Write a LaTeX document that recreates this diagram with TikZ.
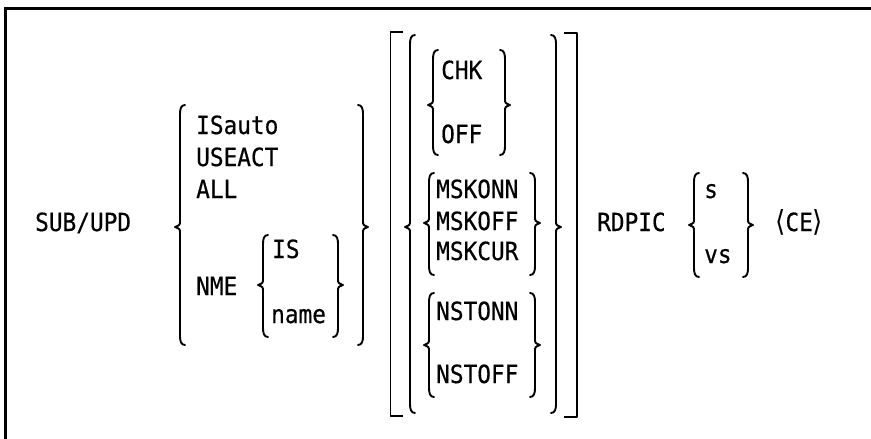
\documentclass[tikz,border=0pt]{standalone}
\usepackage{fontspec}
\newfontfamily\dgfont[FakeStretch=0.91,FakeBold=0.5]{DejaVu Sans Mono}
\newfontfamily\dgsym[FakeStretch=0.91]{DejaVu Sans}
\newcommand\brL[4]{% vertical x, top, bottom, middle
  \draw[brc] (#1+5,#2) .. controls (#1+1,#2) and (#1,#2+4) .. (#1,#2+9) -- (#1,#4-6)
    .. controls (#1,#4-2) .. (#1-5,#4) .. controls (#1,#4+2) .. (#1,#4+6)
    -- (#1,#3-9) .. controls (#1,#3-4) and (#1+1,#3) .. (#1+5,#3);}
\newcommand\brR[4]{% vertical x, top, bottom, middle
  \draw[brc] (#1-5,#2) .. controls (#1-1,#2) and (#1,#2+4) .. (#1,#2+9) -- (#1,#4-6)
    .. controls (#1,#4-2) .. (#1+5,#4) .. controls (#1,#4+2) .. (#1,#4+6)
    -- (#1,#3-9) .. controls (#1,#3-4) and (#1-1,#3) .. (#1-5,#3);}
\begin{document}
\begin{tikzpicture}[x=1pt,y={(0pt,-1pt)},
  brc/.style={line width=1.9pt, line cap=round, line join=round},
  frm/.style={line width=2.3pt},
  lbl/.style={anchor=base west, inner sep=0pt, font=\dgfont\fontsize{25}{25}\selectfont}]
\useasboundingbox (0,0) rectangle (871,439);
% frame
\draw[frm] (5.5,439) -- (5.5,8.5) -- (871,8.5);
% first group
\node[lbl] (sub) at (35,231) {SUB/UPD};
\brL{180}{105}{345}{227}
\brR{363}{105}{345}{227}
\node[lbl] (isauto) at (196,134) {ISauto};
\node[lbl] (useact) at (196,166) {USEACT};
\node[lbl] (all) at (196,198) {ALL};
\node[lbl] (nme) at (196,295) {NME};
\brL{263}{235}{337}{285}
\brR{338}{235}{337}{285}
\node[lbl] (is) at (272,258) {IS};
\node[lbl] (name) at (271,323) {name};
% bracket group
\draw[brc, line cap=butt] (403,32) -- (390.5,32) -- (390.5,416) -- (403,416);
\draw[brc, line cap=butt] (564,33) -- (577,33) -- (577,417) -- (564,417);
\brL{410}{35}{413}{227}
\brR{556}{35}{413}{227}
\brL{433}{50}{155}{105}
\brR{505}{50}{155}{105}
\node[lbl] (chk) at (441,79) {CHK};
\node[lbl] (off) at (441,143) {OFF};
\brL{429}{173}{275}{223}
\brR{535}{173}{275}{223}
\node[lbl] (mskonn) at (436,198) {MSKONN};
\node[lbl] (mskoff) at (436,230) {MSKOFF};
\node[lbl] (mskcur) at (436,260) {MSKCUR};
\brL{429}{293}{397}{345}
\brR{535}{293}{397}{345}
\node[lbl] (nstonn) at (436,320) {NSTONN};
\node[lbl] (nstoff) at (436,383) {NSTOFF};
% RDPIC
\node[lbl] (rdpic) at (597,231) {RDPIC};
\brL{694}{173}{277}{225}
\brR{748}{173}{277}{225}
\node[lbl] (s) at (704,198) {s};
\node[lbl] (vs) at (704,263) {vs};
\node[lbl] (ce) at (775,231) {{\dgsym\fontsize{29}{29}\selectfont ⟨}CE{\dgsym\fontsize{29}{29}\selectfont ⟩}};
\end{tikzpicture}
\end{document}
